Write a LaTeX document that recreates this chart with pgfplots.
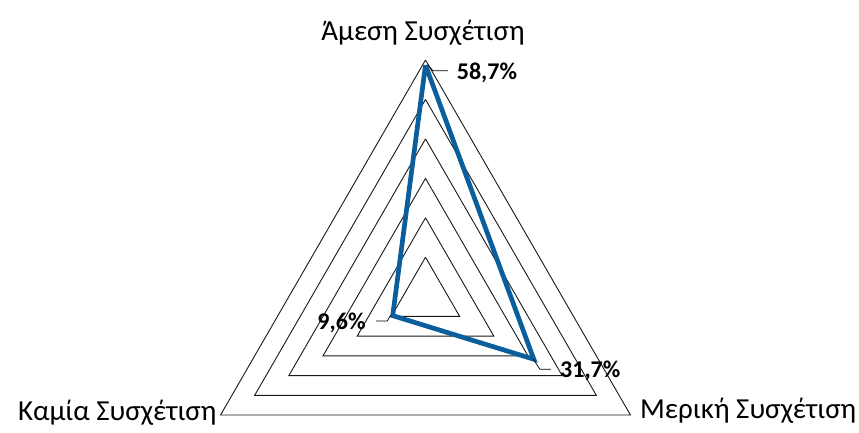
\documentclass[border=0pt]{standalone}
\usepackage{pgfplots}
\pgfplotsset{compat=1.18}
\usepackage{fontspec}
\setmainfont{Carlito}
\definecolor{serblue}{RGB}{10,94,155}
\begin{document}
\begin{tikzpicture}
\begin{axis}[
  scale only axis,
  x=3.945bp, y=3.945bp,
  xmin=-107.86, xmax=109.89,
  ymin=-34.30, ymax=75.21,
  hide axis,
  clip=false,
]
\path[use as bounding box] (axis cs:-107.86,-34.30) rectangle (axis cs:109.89,75.21);
% grid triangles (10% ... 60%)
\foreach \r in {10,20,30,40,50,60}{
  \edef\tmp{\noexpand\addplot[data cs=polar, draw=black!90, line width=0.9bp, mark=none, forget plot]
    coordinates {(90,\r) (210,\r) (330,\r) (90,\r)};}
  \tmp
}
% data
\addplot[data cs=polar, draw=serblue, line width=4.7bp, line join=miter, mark=none]
  coordinates {(90,58.7) (330,31.7) (210,9.6) (90,58.7)};
% leaders
\draw[black, line width=0.7bp] (axis cs:0.63,58.73) -- (axis cs:1.90,57.29) -- (axis cs:5.70,57.29);
\draw[black, line width=0.7bp] (axis cs:-8.82,-4.64) -- (axis cs:-9.68,-6.16) -- (axis cs:-12.55,-6.16);
\draw[black, line width=0.7bp] (axis cs:27.25,-15.79) -- (axis cs:29.02,-18.40) -- (axis cs:31.81,-18.40);
% data labels
\node[anchor=west, inner sep=0pt, font=\fontsize{24bp}{26bp}\selectfont\bfseries] at (axis cs:7.91,56.83) {58,7\%};
\node[anchor=east, inner sep=0pt, font=\fontsize{24bp}{26bp}\selectfont\bfseries] at (axis cs:-15.16,-6.59) {9,6\%};
\node[anchor=west, inner sep=0pt, font=\fontsize{24bp}{26bp}\selectfont\bfseries] at (axis cs:34.09,-18.76) {31,7\%};
% category labels
\node[anchor=base, inner sep=0pt, font=\fontsize{29bp}{32bp}\selectfont] at (axis cs:-0.63,64.9) {Άμεση Συσχέτιση};
\node[anchor=base east, inner sep=0pt, font=\fontsize{29bp}{32bp}\selectfont] at (axis cs:-52.93,-31.5) {Καμία Συσχέτιση};
\node[anchor=base west, inner sep=0pt, font=\fontsize{29bp}{32bp}\selectfont] at (axis cs:54.37,-30.75) {Μερική Συσχέτιση};
\end{axis}
\end{tikzpicture}
\end{document}
